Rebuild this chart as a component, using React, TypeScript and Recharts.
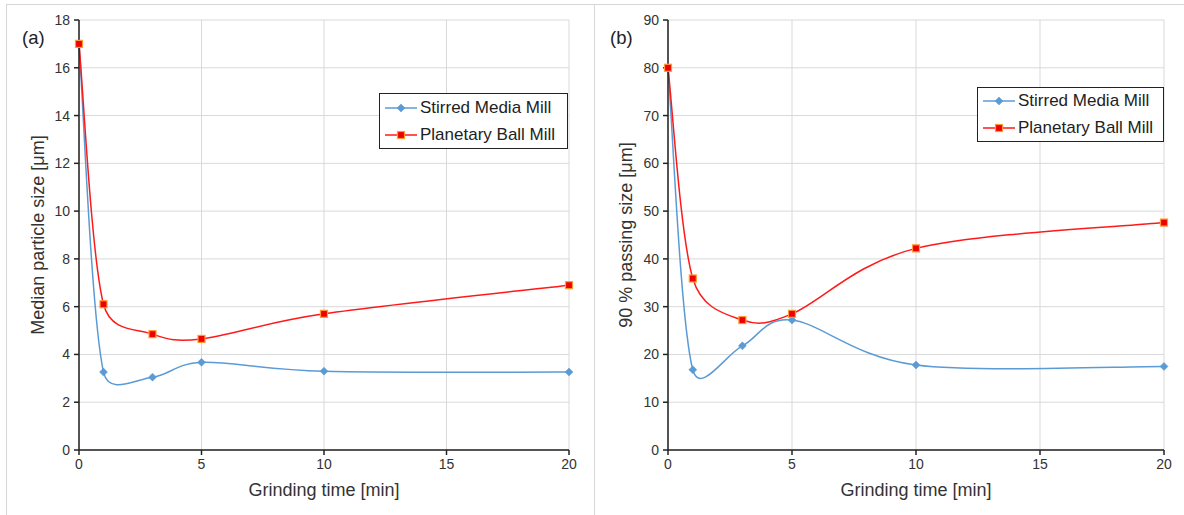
import { LineChart, Line, XAxis, YAxis, CartesianGrid } from "recharts"

const times = [0, 1, 3, 5, 10, 20]
const d50Stirred = [17, 3.26, 3.05, 3.67, 3.3, 3.26]
const d50Planetary = [17, 6.1, 4.85, 4.65, 5.7, 6.9]
const d90Stirred = [80, 16.8, 21.8, 27.2, 17.8, 17.5]
const d90Planetary = [80, 35.9, 27.2, 28.5, 42.2, 47.6]
const xTicks = [0, 5, 10, 15, 20]
const d50Ticks = [0, 2, 4, 6, 8, 10, 12, 14, 16, 18]
const d90Ticks = [0, 10, 20, 30, 40, 50, 60, 70, 80, 90]

const FONT = "'Liberation Sans', Arial, sans-serif"
const BLUE = "#5b9bd5"
const RED = "#ff1a1a"

// Excel-like smoothed line: Catmull-Rom beziers, control arms capped at half the segment
function excelCurve(context: any) {
  let pts: [number, number][] = []
  const arm = (dx: number, dy: number, seg: number) => {
    let ax = dx / 6
    let ay = dy / 6
    const len = Math.hypot(ax, ay)
    if (len > seg / 2 && len > 0) {
      const k = seg / 2 / len
      ax *= k
      ay *= k
    }
    return [ax, ay]
  }
  return {
    areaStart() {},
    areaEnd() {},
    lineStart() {
      pts = []
    },
    lineEnd() {
      const n = pts.length
      if (!n) return
      context.moveTo(pts[0][0], pts[0][1])
      for (let i = 0; i < n - 1; i++) {
        const p0 = pts[Math.max(i - 1, 0)]
        const p1 = pts[i]
        const p2 = pts[i + 1]
        const p3 = pts[Math.min(i + 2, n - 1)]
        const seg = Math.hypot(p2[0] - p1[0], p2[1] - p1[1])
        const a1 = arm(p2[0] - p0[0], p2[1] - p0[1], seg)
        const a2 = arm(p3[0] - p1[0], p3[1] - p1[1], seg)
        context.bezierCurveTo(p1[0] + a1[0], p1[1] + a1[1], p2[0] - a2[0], p2[1] - a2[1], p2[0], p2[1])
      }
    },
    point(x: number, y: number) {
      pts.push([+x, +y])
    },
  }
}

const Diamond = (props: any) => {
  const { cx, cy } = props
  if (cx == null || cy == null) return null
  return <path d={`M${cx},${cy - 4}L${cx + 4},${cy}L${cx},${cy + 4}L${cx - 4},${cy}Z`} fill={BLUE} stroke={BLUE} strokeWidth={0.5} />
}

const Square = (props: any) => {
  const { cx, cy } = props
  if (cx == null || cy == null) return null
  return <rect x={cx - 3.5} y={cy - 3.5} width={7} height={7} fill="#ee0000" stroke="#ff9933" strokeWidth={1.2} />
}

const LegendBox = ({ left, top, width, rowHeight }: { left: number; top: number; width: number; rowHeight: number }) => (
  <div
    style={{
      position: "absolute",
      left,
      top,
      width,
      boxSizing: "border-box",
      border: "1.5px solid #222",
      background: "#fff",
      padding: "0 0 0 5px",
      fontFamily: FONT,
      fontSize: 17,
      color: "#222",
      lineHeight: `${rowHeight}px`,
      whiteSpace: "nowrap",
    }}
  >
    <div style={{ display: "flex", alignItems: "center" }}>
      <svg width={32} height={10} style={{ marginRight: 3, flex: "none" }}>
        <line x1={0} y1={5} x2={32} y2={5} stroke={BLUE} strokeWidth={1.5} />
        <Diamond cx={16} cy={5} />
      </svg>
      Stirred Media Mill
    </div>
    <div style={{ display: "flex", alignItems: "center" }}>
      <svg width={32} height={10} style={{ marginRight: 3, flex: "none" }}>
        <line x1={0} y1={5} x2={32} y2={5} stroke={RED} strokeWidth={1.5} />
        <Square cx={16} cy={5} />
      </svg>
      Planetary Ball Mill
    </div>
  </div>
)

interface PanelProps {
  left: number
  tag: string
  stirred: number[]
  planetary: number[]
  yTicks: number[]
  yLabel: string
  plotLeft: number
  plotRight: number
  legendLeft: number
  legendTop: number
  legendWidth: number
  legendRow: number
}

function Panel(p: PanelProps) {
  const data = times.map((t, i) => ({ t, stirred: p.stirred[i], planetary: p.planetary[i] }))
  const width = 590
  return (
    <div
      style={{
        position: "absolute",
        left: p.left,
        top: 4,
        width,
        height: 530,
        borderLeft: "1px solid #d6d6d6",
        borderTop: "1px solid #d6d6d6",
      }}
    >
      <LineChart
        width={width}
        height={510}
        data={data}
        margin={{ top: 15, right: p.plotRight, bottom: 19, left: 0 }}
      >
        <CartesianGrid stroke="#d9d9d9" strokeWidth={1} />
        <XAxis
          dataKey="t"
          type="number"
          domain={[0, 20]}
          ticks={xTicks}
          height={46}
          axisLine={{ stroke: "#222", strokeWidth: 1.5 }}
          tickLine={{ stroke: "#222", strokeWidth: 1.5 }}
          tickSize={5}
          tickMargin={4}
          tick={{ fill: "#333", fontSize: 14, fontFamily: FONT }}
          label={{ value: "Grinding time [min]", position: "insideBottom", offset: 0, fill: "#333", fontSize: 18, fontFamily: FONT }}
        />
        <YAxis
          type="number"
          domain={[p.yTicks[0], p.yTicks[p.yTicks.length - 1]]}
          ticks={p.yTicks}
          width={p.plotLeft}
          axisLine={{ stroke: "#222", strokeWidth: 1.5 }}
          tickLine={{ stroke: "#222", strokeWidth: 1.5 }}
          tickSize={5}
          tickMargin={4}
          tick={{ fill: "#333", fontSize: 14, fontFamily: FONT }}
          label={{
            value: p.yLabel,
            angle: -90,
            position: "insideLeft",
            offset: 31,
            fill: "#333",
            fontSize: 18,
            fontFamily: FONT,
            style: { textAnchor: "middle" },
          }}
        />
        <Line
          dataKey="stirred"
          type={excelCurve as any}
          stroke={BLUE}
          strokeWidth={1.5}
          dot={<Diamond />}
          isAnimationActive={false}
        />
        <Line
          dataKey="planetary"
          type={excelCurve as any}
          stroke={RED}
          strokeWidth={1.5}
          dot={<Square />}
          isAnimationActive={false}
        />
      </LineChart>
      <div style={{ position: "absolute", left: 15, top: 22, fontFamily: FONT, fontSize: 18.5, color: "#222" }}>{p.tag}</div>
      <LegendBox left={p.legendLeft} top={p.legendTop} width={p.legendWidth} rowHeight={p.legendRow} />
    </div>
  )
}

export default function App() {
  return (
    <div style={{ position: "absolute", left: 0, top: 0, width: 1184, height: 515, overflow: "hidden", background: "#fff" }}>
      <Panel
        left={6}
        tag="(a)"
        stirred={d50Stirred}
        planetary={d50Planetary}
        yTicks={d50Ticks}
        yLabel="Median particle size [μm]"
        plotLeft={72}
        plotRight={28}
        legendLeft={372}
        legendTop={88}
        legendWidth={189}
        legendRow={27}
      />
      <Panel
        left={594}
        tag="(b)"
        stirred={d90Stirred}
        planetary={d90Planetary}
        yTicks={d90Ticks}
        yLabel="90 % passing size [μm]"
        plotLeft={73}
        plotRight={21}
        legendLeft={382}
        legendTop={82}
        legendWidth={187}
        legendRow={26.5}
      />
    </div>
  )
}
